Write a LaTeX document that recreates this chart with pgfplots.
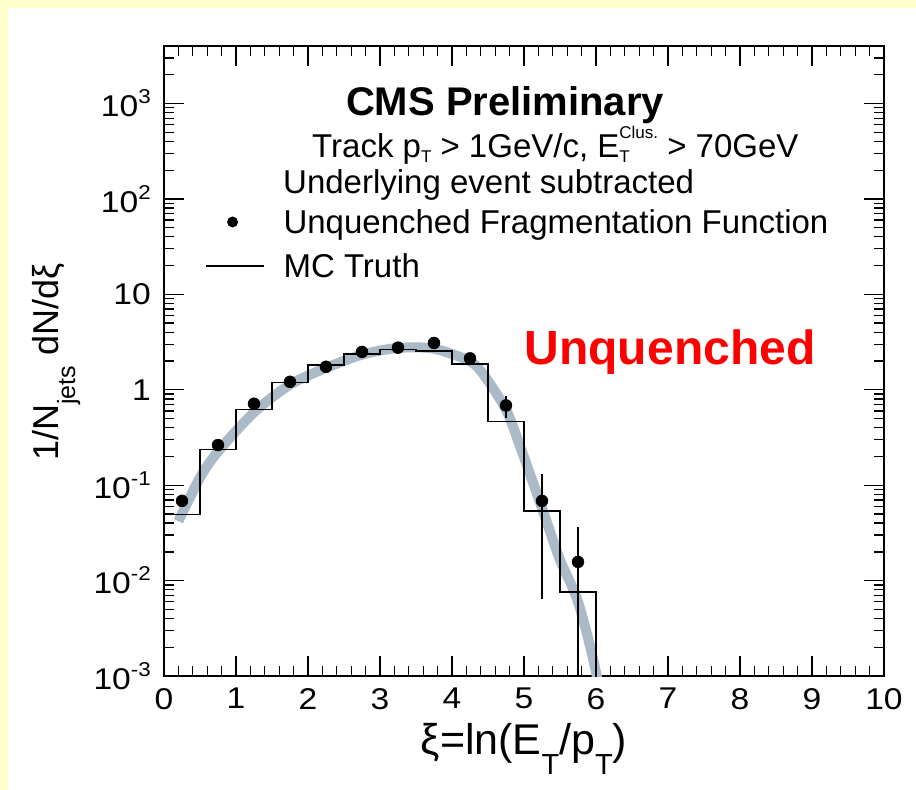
\documentclass[border=0pt]{standalone}
\usepackage{pgfplots}
\pgfplotsset{compat=1.18}
\usepackage{fontspec}
\setmainfont{Liberation Sans}
\definecolor{bgyellow}{RGB}{255,255,204}
\definecolor{bandgray}{RGB}{170,186,200}
\newcommand{\fs}[1]{\fontsize{#1}{#1}\selectfont}
\newcommand{\tk}[1]{\scalebox{1.12}[1]{\fs{30}#1}}
\newcommand{\tl}[1]{\scalebox{1.12}[1]{\fs{30}10\raisebox{13pt}{\fs{20}#1}}}
\newcommand{\sbs}[1]{\raisebox{-6pt}{\fs{17}#1}}
\newcommand{\sbx}[1]{\raisebox{-20pt}{\fs{29}#1}}
\begin{document}
\begin{tikzpicture}
\useasboundingbox (-164pt,-114pt) rectangle (752pt,676pt);
\fill[bgyellow] (-164pt,-114pt) rectangle (752pt,676pt);
\fill[white] (-156pt,-114pt) rectangle (752pt,668pt);
\begin{axis}[
  at={(0pt,0pt)}, anchor=south west,
  scale only axis, width=720pt, height=630pt,
  xmin=0, xmax=10, ymode=log, ymin=1e-3, ymax=4000,
  clip mode=individual,
  xtick={0,1,2,3,4,5,6,7,8,9,10}, minor x tick num=4,
  xticklabels={},
  ytick={1e-3,1e-2,1e-1,1,10,100,1000},
  yticklabels={},
  minor ytick={0.002,0.003,0.004,0.005,0.006,0.007,0.008,0.009,
    0.02,0.03,0.04,0.05,0.06,0.07,0.08,0.09,
    0.2,0.3,0.4,0.5,0.6,0.7,0.8,0.9,
    2,3,4,5,6,7,8,9,20,30,40,50,60,70,80,90,
    200,300,400,500,600,700,800,900,2000,3000},
  tick align=inside, major tick length=20pt, minor tick length=10pt,
  tick style={black, line width=1.3pt},
  axis line style={black, line width=1.5pt},
  xlabel={ξ=ln(E\sbx{T}/p\sbx{T})},
  xlabel style={font=\fs{43}, at={(axis description cs:0.5,0)}, anchor=base, yshift=-78pt},
  ylabel={1/N\raisebox{-17pt}{\fs{25}jets} dN/dξ},
  ylabel style={font=\fs{36}, at={(axis description cs:-0.1472,0.498)}, anchor=base},
  legend style={at={(axis description cs:0.0569,0.7397)}, anchor=north west,
    draw=none, fill=none, inner sep=0pt, outer sep=0pt, row sep=20pt,
    font=\fs{33}, nodes={inner sep=0pt, text height=24pt, text depth=0pt}},
  legend cell align=left,
]
\addplot[smooth, line width=10pt, color=bandgray, forget plot] coordinates {
  (0.2,0.042) (0.5,0.12) (0.75,0.225) (1.25,0.578) (1.75,1.13) (2.25,1.69)
  (2.75,2.33) (3.25,2.74) (3.75,2.69) (4.25,1.98) (4.45,1.40) (4.75,0.617)
  (4.95,0.25) (5.25,0.0574) (5.5,0.0165) (5.75,0.0060) (6.0,0.0011) (6.1,0.0003)};
\addplot[const plot, black, line width=1.3pt, forget plot] coordinates {
  (0,0.0496) (0.5,0.236) (1,0.617) (1.5,1.20) (2,1.82) (2.5,2.37) (3,2.65)
  (3.5,2.55) (4,1.86) (4.5,0.462) (5,0.0537) (5.5,0.00759) (6,0.00759) (6,0.0001)};
\addplot[only marks, mark=*, mark size=6pt, black, forget plot,
  error bars/.cd, y dir=both, y explicit, error mark=none,
  error bar style={line width=1.6pt, black}] coordinates {
  (0.25,0.0684) +- (0,0.005)
  (0.75,0.263) +- (0,0.01)
  (1.25,0.713) +- (0,0.02)
  (1.75,1.21) +- (0,0.03)
  (2.25,1.74) +- (0,0.04)
  (2.75,2.49) +- (0,0.05)
  (3.25,2.76) +- (0,0.06)
  (3.75,3.09) +- (0,0.08)
  (4.25,2.13) +- (0,0.15)
  (4.75,0.684) += (0,0.181) -= (0,0.179)
  (5.25,0.0684) += (0,0.0626) -= (0,0.062)
  (5.75,0.0157) += (0,0.0211) -= (0,0.0156)};
\addlegendimage{legend image code/.code={\path[draw=none,fill=none] (0pt,0pt) -- (78pt,0pt); \fill[black,draw=none] (27pt,0pt) circle (5.5pt);}}
\addlegendentry{Unquenched Fragmentation Function}
\addlegendimage{legend image code/.code={\path[draw=none,fill=none] (0pt,0pt) -- (78pt,0pt); \draw[black, line width=1.2pt] (0pt,0pt) -- (58pt,0pt);}}
\addlegendentry{MC Truth}
% tick labels
\begin{scope}[every node/.style={anchor=north, inner sep=0pt, yshift=-12pt}]
\node at (axis cs:0,1e-3) {\tk{0}};
\node at (axis cs:1,1e-3) {\tk{1}};
\node at (axis cs:2,1e-3) {\tk{2}};
\node at (axis cs:3,1e-3) {\tk{3}};
\node at (axis cs:4,1e-3) {\tk{4}};
\node at (axis cs:5,1e-3) {\tk{5}};
\node at (axis cs:6,1e-3) {\tk{6}};
\node at (axis cs:7,1e-3) {\tk{7}};
\node at (axis cs:8,1e-3) {\tk{8}};
\node at (axis cs:9,1e-3) {\tk{9}};
\node at (axis cs:10,1e-3) {\tk{10}};
\end{scope}
\begin{scope}[every node/.style={anchor=east, inner sep=0pt, xshift=-13pt}]
\node at (axis cs:0,1e-3) {\tl{-3}};
\node at (axis cs:0,1e-2) {\tl{-2}};
\node at (axis cs:0,1e-1) {\tl{-1}};
\node at (axis cs:0,1) {\tk{1}};
\node at (axis cs:0,10) {\tk{10}};
\node at (axis cs:0,100) {\tl{2}};
\node at (axis cs:0,1000) {\tl{3}};
\end{scope}
\node[anchor=base, inner sep=0pt, font=\bfseries\fs{40}] at (axis description cs:0.4736,0.8889) {CMS Preliminary};
\node[anchor=base west, inner sep=0pt, font=\fs{33}] at (axis description cs:0.2056,0.8238) {Track p\sbs{T} > 1GeV/c, E\rlap{\sbs{T}}\raisebox{19pt}{\fs{17}Clus.} > 70GeV};
\node[anchor=base west, inner sep=0pt, font=\fs{33}] at (axis description cs:0.1653,0.7651) {Underlying event subtracted};
\node[anchor=base, inner sep=0pt, font=\bfseries\fs{48}, text=red] at (axis description cs:0.7028,0.4937) {Unquenched};
\end{axis}
\end{tikzpicture}
\end{document}
